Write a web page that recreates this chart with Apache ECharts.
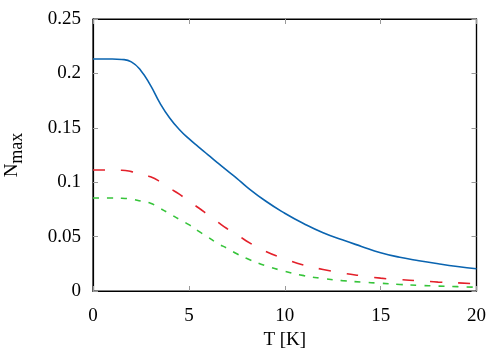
<!DOCTYPE html>
<html>
<head>
<meta charset="utf-8">
<script src="https://cdn.jsdelivr.net/npm/echarts@6/dist/echarts.min.js"></script>
<style>
  html, body { margin: 0; padding: 0; background: #fff; }
  #chart { width: 500px; height: 350px; }
</style>
</head>
<body>
<div id="chart"></div>
<script>
// temperatures (K) shared by the three curves
var temps = [0, 1, 1.5, 2, 2.5, 3, 3.5, 4, 4.5, 5, 5.5, 6, 6.5, 7, 7.5, 8,
             9, 10, 11, 12, 13, 14, 15, 16, 17, 18, 19, 20];
var blueVals = [0.2132, 0.2132, 0.2128, 0.2106, 0.2025, 0.1890, 0.1725, 0.1590,
                0.1485, 0.1400, 0.1325, 0.1252, 0.1178, 0.1106, 0.1036, 0.0960,
                0.0827, 0.0715, 0.0618, 0.0535, 0.0470, 0.0410, 0.0352, 0.0310,
                0.0278, 0.0250, 0.0225, 0.0204];
var redVals = [0.1112, 0.1112, 0.1110, 0.1097, 0.1075, 0.1050, 0.1005, 0.0945,
               0.0890, 0.0825, 0.0765, 0.0700, 0.0635, 0.0572, 0.0520, 0.0460,
               0.0365, 0.0296, 0.0237, 0.0198, 0.0165, 0.0140, 0.0118, 0.0105,
               0.0094, 0.0082, 0.0075, 0.0065];
var greenVals = [0.0855, 0.0855, 0.0852, 0.0845, 0.0826, 0.0806, 0.0760, 0.0710,
                 0.0659, 0.0610, 0.0550, 0.0495, 0.0438, 0.0392, 0.0342, 0.0300,
                 0.0232, 0.0182, 0.0141, 0.0115, 0.0095, 0.0082, 0.0071, 0.0060,
                 0.0052, 0.0045, 0.0040, 0.0034];
var xTicks = [0, 5, 10, 15, 20];
var yTicks = [0, 0.05, 0.1, 0.15, 0.2, 0.25];

function pairs(xs, ys) {
    return xs.map(function(x, i) { return [x, ys[i]]; });
}

var font = 'Liberation Serif';
function tickStyle() {
    return { show: true, inside: true, length: 5, lineStyle: { color: '#999', width: 1 } };
}
function axisLine() {
    return { show: true, onZero: false, lineStyle: { color: '#000', width: 1.2 } };
}
function blankLabel() {
    return { show: true, formatter: function() { return ''; } };
}

var chart = echarts.init(document.getElementById('chart'));

var option = {
    animation: false,
    grid: {
        left: 93, right: 23.5, top: 19, bottom: 59,
        outerBounds: { left: -60, right: -60, top: -60, bottom: -60 },
        show: true, borderColor: '#000', borderWidth: 1.2
    },
    xAxis: [
        {
            type: 'value', min: 0, max: 20, interval: 5, position: 'bottom',
            name: 'T [K]', nameLocation: 'middle', nameGap: 40,
            nameTextStyle: { fontFamily: font, fontSize: 19, color: '#000' },
            axisLine: axisLine(),
            axisTick: tickStyle(),
            splitLine: { show: false },
            axisLabel: {
                fontFamily: font, fontSize: 19, color: '#000', margin: 16,
                formatter: function(v) { return xTicks.indexOf(v) >= 0 ? String(v) : ''; }
            }
        },
        {
            type: 'value', min: 0, max: 20, interval: 5, position: 'top',
            axisLine: axisLine(),
            axisTick: tickStyle(),
            axisLabel: blankLabel(),
            splitLine: { show: false }
        }
    ],
    yAxis: [
        {
            type: 'value', min: 0, max: 0.25, interval: 0.05, position: 'left',
            name: '{a|N}{b|max}', nameLocation: 'middle', nameGap: 67, nameRotate: 90,
            nameTextStyle: {
                fontFamily: font, fontSize: 19, color: '#000',
                rich: {
                    a: { fontFamily: font, fontSize: 19, color: '#000', verticalAlign: 'bottom', padding: [0, 0, 4, 0] },
                    b: { fontFamily: font, fontSize: 18, color: '#000', verticalAlign: 'bottom' }
                }
            },
            axisLine: axisLine(),
            axisTick: tickStyle(),
            splitLine: { show: false },
            axisLabel: {
                fontFamily: font, fontSize: 19, color: '#000', margin: 12,
                formatter: function(v) {
                    var r = Math.round(v * 100) / 100;
                    return yTicks.indexOf(r) >= 0 ? String(r) : '';
                }
            }
        },
        {
            type: 'value', min: 0, max: 0.25, interval: 0.05, position: 'right',
            axisLine: axisLine(),
            axisTick: tickStyle(),
            axisLabel: blankLabel(),
            splitLine: { show: false }
        }
    ],
    series: [
        {
            type: 'line', data: pairs(temps, blueVals), showSymbol: false,
            smooth: true,
            lineStyle: { color: '#0a64b0', width: 1.6 }
        },
        {
            type: 'line', data: pairs(temps, redVals), showSymbol: false,
            smooth: true,
            lineStyle: { color: '#e3202a', width: 1.6, type: [12, 16] }
        },
        {
            type: 'line', data: pairs(temps, greenVals), showSymbol: false,
            smooth: true,
            lineStyle: { color: '#36c43a', width: 1.6, type: [6, 8] }
        }
    ]
};
chart.setOption(option);
</script>
</body>
</html>
